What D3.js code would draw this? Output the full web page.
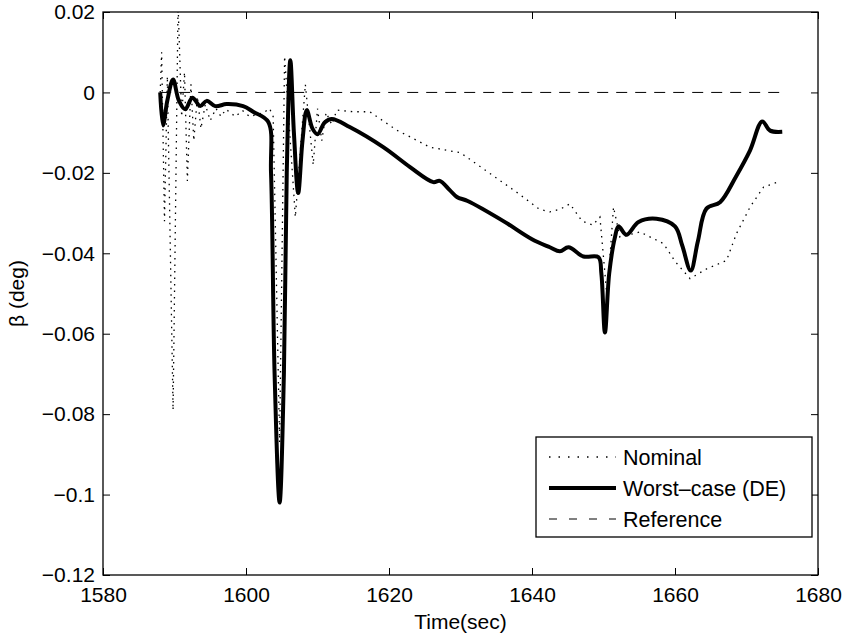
<!DOCTYPE html>
<html>
<head>
<meta charset="utf-8">
<script src="https://cdn.jsdelivr.net/npm/d3@7"></script>
<style>
  body { margin: 0; background: #fff; }
  text { font-family: "Liberation Sans", Arial, Helvetica, sans-serif; }
</style>
</head>
<body>
<svg id="chart"></svg>
<script>
// tempo (s) e beta (deg)
const nominal = [
  [1588.0, 0.0], [1588.2, 0.010], [1588.6, -0.032], [1589.0, 0.004],
  [1589.8, -0.079], [1590.5, 0.022], [1591.0, -0.006], [1591.4, 0.005],
  [1591.8, -0.022], [1592.3, 0.002], [1592.7, -0.012], [1593.2, -0.001],
  [1593.7, -0.009], [1594.3, -0.003], [1595.0, -0.007], [1595.8, -0.004],
  [1596.5, -0.006], [1597.2, -0.0042], [1598.5, -0.006], [1599.5, -0.0045],
  [1600.5, -0.006], [1601.5, -0.0055], [1602.5, -0.005], [1603.3, -0.004],
  [1603.8, -0.006], [1604.7, -0.087], [1605.4, 0.009], [1606.9, -0.031],
  [1608.3, 0.002], [1609.4, -0.018], [1610.0, -0.004], [1610.6, -0.012],
  [1611.2, -0.005], [1612.0, -0.008], [1612.7, -0.0044], [1615.0, -0.0048],
  [1617.3, -0.0048], [1618.7, -0.0065], [1621.1, -0.0094], [1622.9, -0.011],
  [1625.7, -0.0136], [1628.1, -0.0144], [1630.0, -0.015], [1634.0, -0.020],
  [1638.0, -0.025], [1641.0, -0.029], [1642.5, -0.0297], [1644.0, -0.029],
  [1645.3, -0.0277], [1647.0, -0.032], [1648.5, -0.033], [1649.5, -0.031],
  [1650.5, -0.051], [1651.4, -0.0285], [1652.3, -0.036], [1655.1, -0.0347],
  [1658.4, -0.0376], [1660.0, -0.042], [1662.1, -0.0463], [1664.4, -0.0439],
  [1667.2, -0.0418], [1668.6, -0.0351], [1670.5, -0.0285], [1672.4, -0.0235],
  [1674.7, -0.0221]
];

const worstCase = [
  [1588.0, 0.0], [1588.4, -0.0082], [1589.0, -0.002], [1589.8, 0.0032],
  [1590.6, -0.002], [1591.5, -0.0042], [1592.5, -0.0013], [1593.6, -0.0034],
  [1594.5, -0.0021], [1595.7, -0.0034], [1597.3, -0.0029], [1599.6, -0.0034],
  [1601.0, -0.0048], [1603.1, -0.0073], [1603.5, -0.02], [1604.0, -0.07],
  [1604.7, -0.102], [1605.3, -0.07], [1605.7, -0.02], [1606.2, 0.008],
  [1606.7, -0.01], [1607.3, -0.025], [1607.9, -0.012], [1608.5, -0.0044],
  [1609.3, -0.009], [1610.0, -0.0104], [1611.0, -0.0075], [1612.0, -0.0066],
  [1614.5, -0.0086], [1619.2, -0.0136], [1622.9, -0.0185], [1626.2, -0.0223],
  [1627.1, -0.022], [1628.5, -0.0243], [1629.5, -0.026], [1631.0, -0.027],
  [1636.0, -0.032], [1640.0, -0.0365], [1642.5, -0.0385], [1643.9, -0.0395],
  [1645.1, -0.0385], [1647.2, -0.0408], [1649.3, -0.041], [1649.7, -0.045],
  [1650.2, -0.0597], [1650.8, -0.045], [1651.6, -0.036], [1652.1, -0.0333],
  [1653.2, -0.0354], [1654.9, -0.0322], [1657.4, -0.0314], [1660.0, -0.0333],
  [1661.0, -0.038], [1662.2, -0.0443], [1663.2, -0.037], [1664.4, -0.0289],
  [1666.3, -0.0273], [1668.5, -0.021], [1670.5, -0.0144], [1672.2, -0.0072],
  [1673.3, -0.0095], [1675.0, -0.0098]
];

const reference = [[1588.0, 0.0], [1675.0, 0.0]];

const xTicks = [1580, 1600, 1620, 1640, 1660, 1680];
const yTicks = [0.02, 0, -0.02, -0.04, -0.06, -0.08, -0.1, -0.12];
const legendLabels = ['Nominal', 'Worst\u2013case (DE)', 'Reference'];

const width = 846;
const height = 635;
const MARGINS = { top: 12, right: 28, bottom: 60, left: 103 };
const innerW = width - MARGINS.left - MARGINS.right;
const innerH = height - MARGINS.top - MARGINS.bottom;

const svg = d3.select('#chart').attr('width', width).attr('height', height);
const g = svg.append('g').attr('transform', `translate(${MARGINS.left},${MARGINS.top})`);

const x = d3.scaleLinear().domain([1580, 1680]).range([0, innerW]);
const y = d3.scaleLinear().domain([-0.12, 0.02]).range([innerH, 0]);

const fmtY = v => v === 0 ? '0' : (v < 0 ? '\u2212' : '') + String(Math.abs(+v.toFixed(2)));

// eixos com ticks para dentro (caixa estilo matlab)
const styleAxis = sel => {
  sel.select('.domain').remove();
  sel.selectAll('line').attr('stroke', '#000').attr('stroke-width', 1);
  sel.selectAll('text').attr('fill', '#000').style('font-size', '21px');
};

g.append('g').attr('transform', `translate(0,${innerH})`)
  .call(d3.axisBottom(x).tickValues(xTicks).tickSize(-7).tickPadding(12).tickFormat(d3.format('d')))
  .call(styleAxis);
g.append('g')
  .call(d3.axisTop(x).tickValues(xTicks).tickSize(-7).tickFormat(''))
  .call(styleAxis);
g.append('g')
  .call(d3.axisLeft(y).tickValues(yTicks).tickSize(-7).tickPadding(8).tickFormat(fmtY))
  .call(styleAxis);
g.append('g').attr('transform', `translate(${innerW},0)`)
  .call(d3.axisRight(y).tickValues(yTicks).tickSize(-7).tickFormat(''))
  .call(styleAxis);

g.append('clipPath').attr('id', 'clip')
  .append('rect').attr('width', innerW).attr('height', innerH);

const plot = g.append('g').attr('clip-path', 'url(#clip)');

const line = d3.line().x(d => x(d[0])).y(d => y(d[1]));
const smoothLine = d3.line().x(d => x(d[0])).y(d => y(d[1])).curve(d3.curveCatmullRom.alpha(0.5));

plot.append('path').datum(reference)
  .attr('d', line)
  .attr('fill', 'none').attr('stroke', '#000').attr('stroke-width', 1)
  .attr('stroke-dasharray', '11,8');

plot.append('path').datum(nominal)
  .attr('d', line)
  .attr('fill', 'none').attr('stroke', '#000').attr('stroke-width', 1.3)
  .attr('stroke-dasharray', '1.5,5');

plot.append('path').datum(worstCase)
  .attr('d', smoothLine)
  .attr('fill', 'none').attr('stroke', '#000').attr('stroke-width', 4)
  .attr('stroke-linejoin', 'round');

// moldura
g.append('rect').attr('width', innerW).attr('height', innerH)
  .attr('fill', 'none').attr('stroke', '#000').attr('stroke-width', 1.3);

// titulos dos eixos
svg.append('text')
  .attr('x', MARGINS.left + innerW / 2).attr('y', 629)
  .attr('text-anchor', 'middle').style('font-size', '21px')
  .text('Time(sec)');
svg.append('text')
  .attr('transform', `translate(24,${MARGINS.top + innerH / 2}) rotate(-90)`)
  .attr('text-anchor', 'middle').style('font-size', '21px')
  .text('\u03b2 (deg)');

// legenda
const legend = svg.append('g');
legend.append('rect')
  .attr('x', 536).attr('y', 437).attr('width', 276).attr('height', 100)
  .attr('fill', '#fff').attr('stroke', '#000').attr('stroke-width', 1.3);

const legendStyles = [
  { w: 1.3, dash: '1.5,8' },
  { w: 4, dash: null },
  { w: 1, dash: '8,12' }
];
const rowY = [457, 488, 519];

legendLabels.forEach((label, i) => {
  legend.append('line')
    .attr('x1', 549).attr('x2', 616).attr('y1', rowY[i]).attr('y2', rowY[i])
    .attr('stroke', '#000').attr('stroke-width', legendStyles[i].w)
    .attr('stroke-dasharray', legendStyles[i].dash);
  legend.append('text')
    .attr('x', 623).attr('y', rowY[i]).attr('dy', '0.35em')
    .style('font-size', '21.5px')
    .text(label);
});
</script>
</body>
</html>
